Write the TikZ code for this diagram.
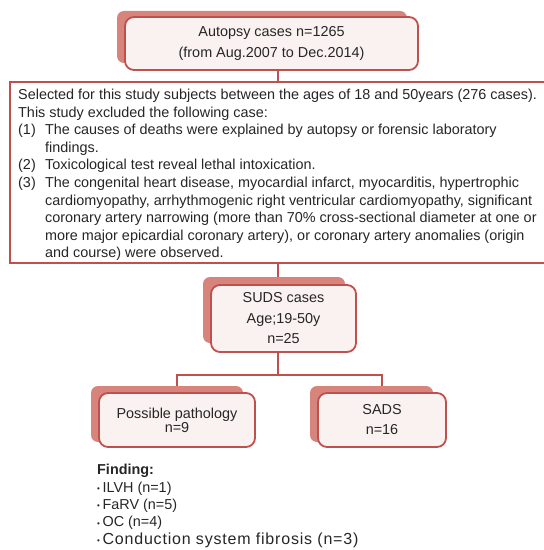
\documentclass[tikz,border=0pt]{standalone}
\usepackage{fontspec}
\setmainfont{Liberation Sans}
\definecolor{framered}{RGB}{192,80,77}
\definecolor{shadowred}{RGB}{214,132,124}
\definecolor{frontfill}{RGB}{250,242,240}
\newcommand{\bul}{\raisebox{0.8bp}{\fontsize{8bp}{8bp}\selectfont •}\hspace{2.6bp}}
\begin{document}
\begin{tikzpicture}[x=1bp,y=-1bp,
  shadowbox/.style={fill=shadowred, rounded corners=7bp, inner sep=0pt},
  frontbox/.style={draw=framered, line width=1.8bp, fill=frontfill, rounded corners=9bp, inner sep=0pt, align=center},
  bigbox/.style={draw=framered, line width=1.8bp, fill=white, inner sep=0pt},
  conn/.style={draw=framered, line width=1.8bp},
  txt/.style={font=\fontsize{14.4bp}{21bp}\selectfont, text=black!85}
]
\useasboundingbox (0,0) rectangle (544,550);
% top box
\node[shadowbox, minimum width=290bp, minimum height=52bp] (topsh) at (262,37) {};
\node[frontbox, txt, font=\fontsize{14.4bp}{21.5bp}\selectfont, minimum width=293bp, minimum height=53bp] (top) at (271.5,43.5)
  {Autopsy cases n=1265\\(from Aug.2007 to Dec.2014)};
% big box
\node[bigbox, minimum width=536bp, minimum height=181bp] (big) at (278,172.5) {};
\node[anchor=west, inner sep=0pt, align=left, font=\fontsize{14.4bp}{17.6bp}\selectfont, text=black!85] (bigtext) at (18,175)
 {Selected for this study subjects between the ages of 18 and 50years (276 cases).\\
  This study excluded the following case:\\
  \makebox[27bp][l]{(1)}The causes of deaths were explained by autopsy or forensic laboratory\\
  \hspace*{27bp}findings.\\
  \makebox[27bp][l]{(2)}Toxicological test reveal lethal intoxication.\\
  \makebox[27bp][l]{(3)}The congenital heart disease, myocardial infarct, myocarditis, hypertrophic\\
  \hspace*{27bp}cardiomyopathy, arrhythmogenic right ventricular cardiomyopathy, significant\\
  \hspace*{27bp}coronary artery narrowing (more than 70\% cross-sectional diameter at one or\\
  \hspace*{27bp}more major epicardial coronary artery), or coronary artery anomalies (origin\\
  \hspace*{27bp}and course) were observed.};
% SUDS box
\node[shadowbox, minimum width=142bp, minimum height=66bp] (sudssh) at (274,310) {};
\node[frontbox, txt, font=\fontsize{14.4bp}{20.5bp}\selectfont, minimum width=145bp, minimum height=67bp] (suds) at (283.5,318.5)
  {SUDS cases\\Age;19-50y\\n=25};
% possible pathology
\node[shadowbox, minimum width=152bp, minimum height=56bp] (possh) at (167,414) {};
\node[frontbox, txt, font=\fontsize{14.4bp}{14bp}\selectfont, minimum width=156bp, minimum height=54bp] (poss) at (177,420)
  {Possible pathology\\n=9};
% SADS
\node[shadowbox, minimum width=123bp, minimum height=56bp] (sadssh) at (371.5,414) {};
\node[frontbox, txt, font=\fontsize{14.4bp}{20bp}\selectfont, minimum width=128bp, minimum height=54bp] (sads) at (382,420)
  {SADS\\n=16};
% finding text
\node[anchor=north west, inner sep=0pt, align=left, font=\fontsize{14.4bp}{17.4bp}\selectfont, text=black!85] (finding) at (97,464)
  {\textbf{Finding:}\\
   \bul ILVH (n=1)\\
   \bul FaRV (n=5)\\
   \bul OC (n=4)\\
   \bul {\addfontfeature{LetterSpace=5}\fontsize{16bp}{17.4bp}\selectfont Conduction system fibrosis (n=3)}};
% connectors
\coordinate (split) at (278,375);
\draw[conn] (top.south -| big.north) -- (big.north);
\draw[conn] (big.south) -- (big.south |- sudssh.north);
\draw[conn] (suds.south -| split) -- (split);
\draw[conn] (poss.north |- possh.north) -- (poss.north |- split) -- (sads.north |- split) -- (sads.north |- sadssh.north);
\end{tikzpicture}
\end{document}
